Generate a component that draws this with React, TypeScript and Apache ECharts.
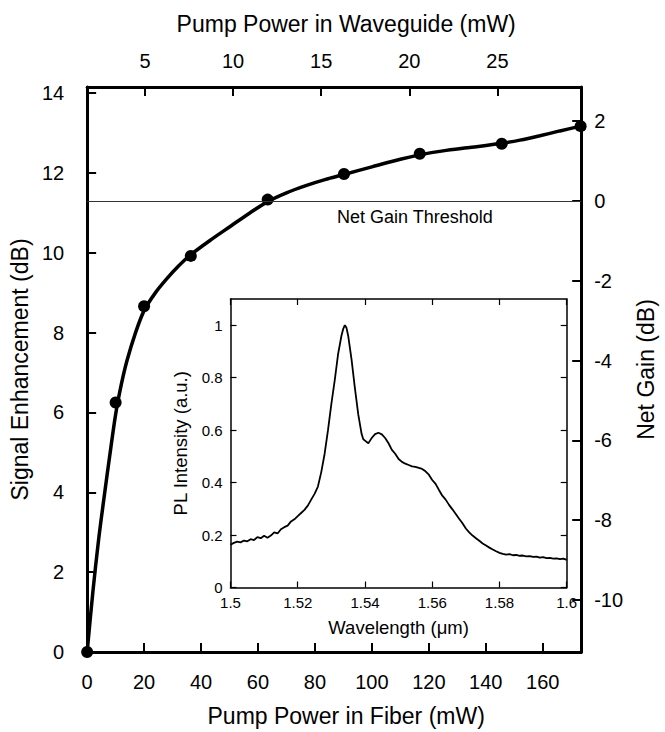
import React, { useEffect, useRef } from "react";
import * as echarts from "echarts";

// Main plot: measured points
const fiberPower = [0, 10, 20, 36.4, 63.4, 90.2, 116.8, 145.6, 173.3];
const enhancement = [0, 6.25, 8.66, 9.92, 11.33, 11.97, 12.48, 12.73, 13.17];

// Main plot: fitted curve
const fitX = [0, 2, 4, 6, 8, 10, 12, 14, 17, 20, 24, 28, 32, 36.4, 43, 50.5, 57, 63.4, 70, 76.8, 83.5, 90.2, 100, 110, 116.8, 125, 135, 145.6, 152, 159, 166, 173.3];
const fitY = [0, 1.5, 2.8, 3.9, 4.95, 5.95, 6.7, 7.3, 8.0, 8.55, 9.0, 9.35, 9.66, 9.95, 10.3, 10.67, 10.99, 11.28, 11.5, 11.68, 11.83, 11.96, 12.15, 12.34, 12.45, 12.55, 12.64, 12.74, 12.82, 12.93, 13.05, 13.17];

const threshold = 11.3;

// Tick labels
const fiberTicks = [0, 20, 40, 60, 80, 100, 120, 140, 160];
const waveguideTicks = [5, 10, 15, 20, 25];
const enhTicks = [0, 2, 4, 6, 8, 10, 12, 14];
const netGainTicks = [-10, -8, -6, -4, -2, 0, 2];
const wlTicks = [1.5, 1.52, 1.54, 1.56, 1.58, 1.6];
const plTicks = [0, 0.2, 0.4, 0.6, 0.8, 1];

// Inset: PL spectrum
const wavelength = [
  1.5, 1.501, 1.502, 1.503, 1.504, 1.505, 1.506, 1.507, 1.508, 1.509,
  1.51, 1.511, 1.512, 1.513, 1.514, 1.515, 1.516, 1.517, 1.518, 1.519,
  1.52, 1.521, 1.522, 1.523, 1.524, 1.525, 1.526, 1.527, 1.528, 1.529,
  1.53, 1.531, 1.532, 1.533, 1.5335, 1.534, 1.5345, 1.535, 1.536, 1.537,
  1.538, 1.539, 1.5395, 1.54, 1.541, 1.5415, 1.542, 1.543, 1.544, 1.545,
  1.546, 1.547, 1.548, 1.549, 1.55, 1.551, 1.552, 1.553, 1.554, 1.555,
  1.556, 1.557, 1.558, 1.559, 1.56, 1.561, 1.562, 1.563, 1.564, 1.565,
  1.566, 1.567, 1.568, 1.569, 1.57, 1.571, 1.572, 1.573, 1.574, 1.575,
  1.576, 1.577, 1.578, 1.579, 1.58, 1.581, 1.582, 1.583, 1.584, 1.585,
  1.586, 1.587, 1.588, 1.589, 1.59, 1.591, 1.592, 1.593, 1.594, 1.595,
  1.596, 1.597, 1.598, 1.599, 1.6,
];
const plIntensity = [
  0.163, 0.17, 0.175, 0.172, 0.179, 0.176, 0.184, 0.181, 0.192, 0.188,
  0.197, 0.19, 0.198, 0.21, 0.206, 0.222, 0.23, 0.236, 0.252, 0.26,
  0.272, 0.284, 0.296, 0.312, 0.335, 0.357, 0.385, 0.44, 0.51, 0.6,
  0.7, 0.79, 0.89, 0.96, 0.985, 1.0, 0.99, 0.96, 0.87, 0.76,
  0.66, 0.585, 0.565, 0.56, 0.55, 0.56, 0.57, 0.585, 0.59, 0.584,
  0.57, 0.55, 0.525, 0.51, 0.49, 0.479, 0.472, 0.467, 0.462, 0.46,
  0.456, 0.452, 0.443, 0.43, 0.41, 0.395, 0.372, 0.35, 0.335, 0.315,
  0.298, 0.28, 0.262, 0.245, 0.225, 0.21, 0.198, 0.188, 0.178, 0.168,
  0.16, 0.152, 0.145, 0.138, 0.132, 0.128, 0.125, 0.127, 0.123, 0.124,
  0.121, 0.122, 0.119, 0.12, 0.117, 0.118, 0.114, 0.116, 0.112, 0.113,
  0.11, 0.111, 0.108, 0.11, 0.105,
];

const FONT = "'Liberation Sans', Arial, Helvetica, sans-serif";

export default function App() {
  const ref = useRef<HTMLDivElement>(null);
  useEffect(() => {
    if (!ref.current) return;
    const chart = echarts.init(ref.current, undefined, { renderer: "svg" });
    const black = "#000";
    const mainLine = { show: true, onZero: false, lineStyle: { color: black, width: 3 } };
    const mainTick = (vals: number[]) => ({ show: true, inside: true, length: 9, customValues: vals, lineStyle: { color: black, width: 2 } });
    const mainLabel = (vals: number[], margin: number) => ({ show: true, customValues: vals, fontSize: 20, color: black, margin, fontFamily: FONT });
    const insetLine = { show: true, onZero: false, lineStyle: { color: black, width: 1.5 } };
    const insetTick = (vals: number[]) => ({ show: true, inside: true, length: 6, customValues: vals, lineStyle: { color: black, width: 1.2 } });
    const insetLabel = (vals: number[], margin: number) => ({ show: true, customValues: vals, fontSize: 15, color: black, margin, fontFamily: FONT });

    chart.setOption({
      animation: false,
      backgroundColor: "#fff",
      textStyle: { fontFamily: FONT, color: black },
      grid: [
        { left: 82.7, top: 87, width: 507.3, height: 566.3 },
        { left: 230.5, top: 299, width: 336.2, height: 288.5 },
      ],
      xAxis: [
        {
          type: "value", gridIndex: 0, position: "bottom", min: 0, max: 173.5,
          axisLine: mainLine, axisTick: mainTick(fiberTicks), axisLabel: mainLabel(fiberTicks, 20),
          splitLine: { show: false },
          name: "Pump Power in Fiber (mW)", nameLocation: "middle", nameGap: 52,
          nameTextStyle: { fontSize: 23, color: black, padding: [0, 0, 0, 24] },
        },
        {
          type: "value", gridIndex: 0, position: "top", min: 1.72, max: 29.75,
          axisLine: mainLine, axisTick: mainTick(waveguideTicks), axisLabel: mainLabel(waveguideTicks, 16),
          splitLine: { show: false },
          name: "Pump Power in Waveguide (mW)", nameLocation: "middle", nameGap: 52,
          nameTextStyle: { fontSize: 23, color: black, padding: [0, 0, 0, 24] },
        },
        {
          type: "value", gridIndex: 1, position: "bottom", min: 1.5, max: 1.6,
          axisLine: insetLine, axisTick: insetTick(wlTicks), axisLabel: insetLabel(wlTicks, 7),
          splitLine: { show: false },
          name: "Wavelength (\u03bcm)", nameLocation: "middle", nameGap: 30,
          nameTextStyle: { fontSize: 18.5, color: black },
        },
        {
          type: "value", gridIndex: 1, position: "top", min: 1.5, max: 1.6,
          axisLine: insetLine, axisTick: insetTick(wlTicks), axisLabel: { show: false },
          splitLine: { show: false },
        },
      ],
      yAxis: [
        {
          type: "value", gridIndex: 0, position: "left", min: 0, max: 14.15,
          axisLine: mainLine, axisTick: mainTick(enhTicks), axisLabel: mainLabel(enhTicks, 23),
          splitLine: { show: false },
          name: "Signal Enhancement (dB)", nameLocation: "middle", nameGap: 45,
          nameTextStyle: { fontSize: 23, color: black },
        },
        {
          type: "value", gridIndex: 0, position: "right", min: -threshold, max: 14.15 - threshold,
          axisLine: mainLine, axisTick: mainTick(netGainTicks), axisLabel: mainLabel(netGainTicks, 13),
          splitLine: { show: false },
          name: "Net Gain (dB)", nameLocation: "middle", nameGap: 46,
          nameTextStyle: { fontSize: 23, color: black },
        },
        {
          type: "value", gridIndex: 1, position: "left", min: 0, max: 1.1,
          axisLine: insetLine, axisTick: insetTick(plTicks), axisLabel: insetLabel(plTicks, 8),
          splitLine: { show: false },
          name: "PL Intensity (a.u.)", nameLocation: "middle", nameGap: 41,
          nameTextStyle: { fontSize: 18.5, color: black },
        },
        {
          type: "value", gridIndex: 1, position: "right", min: 0, max: 1.1,
          axisLine: insetLine, axisTick: insetTick(plTicks), axisLabel: { show: false },
          splitLine: { show: false },
        },
      ],
      graphic: [
        {
          type: "text", left: 337, top: 208,
          style: { text: "Net Gain Threshold", fontSize: 18, fill: black, fontFamily: FONT },
        },
      ],
      series: [
        {
          type: "line", xAxisIndex: 0, yAxisIndex: 0,
          data: fitX.map((x, i) => [x, fitY[i]]),
          smooth: 0.3, showSymbol: false, symbol: "none",
          lineStyle: { color: black, width: 3.5 }, z: 3,
          markLine: {
            silent: true, symbol: "none", label: { show: false },
            lineStyle: { color: "#333", width: 1, type: "solid" },
            data: [{ yAxis: threshold }],
          },
        },
        {
          type: "scatter", xAxisIndex: 0, yAxisIndex: 0,
          data: fiberPower.map((x, i) => [x, enhancement[i]]),
          symbolSize: 12, itemStyle: { color: black, opacity: 1 }, z: 4, clip: false,
        },
        {
          type: "line", xAxisIndex: 2, yAxisIndex: 2,
          data: wavelength.map((x, i) => [x, plIntensity[i]]),
          showSymbol: false, symbol: "none",
          lineStyle: { color: black, width: 1.8 },
        },
      ],
    });
    return () => chart.dispose();
  }, []);
  return (
    <div
      ref={ref}
      style={{ position: "absolute", left: 0, top: 0, width: 665, height: 732, background: "#fff" }}
    />
  );
}
